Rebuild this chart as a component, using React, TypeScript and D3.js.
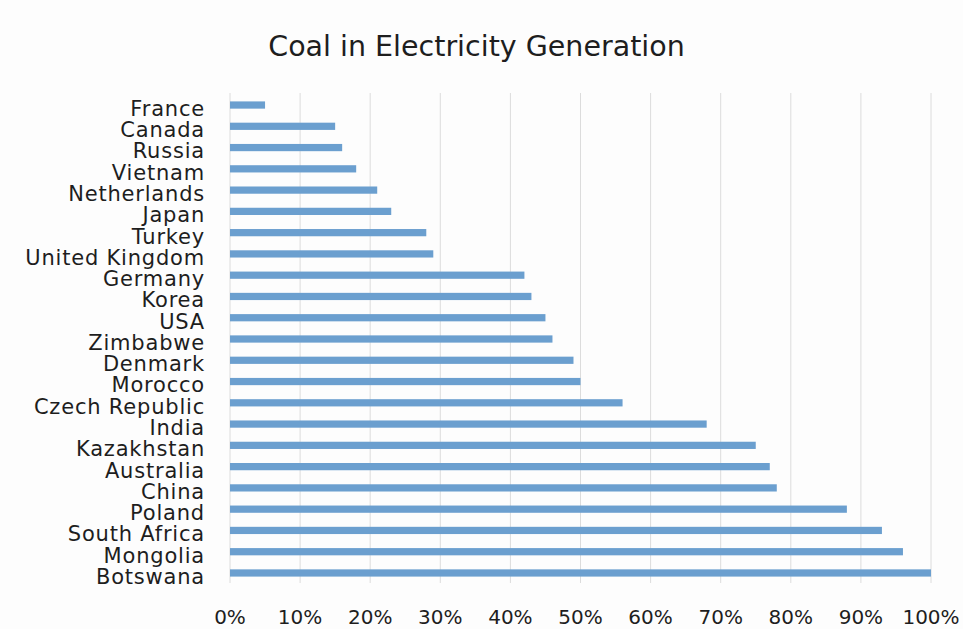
import React, { useEffect, useRef } from "react";
import * as d3 from "d3";

const countries = [
  "France", "Canada", "Russia", "Vietnam", "Netherlands", "Japan", "Turkey",
  "United Kingdom", "Germany", "Korea", "USA", "Zimbabwe", "Denmark", "Morocco",
  "Czech Republic", "India", "Kazakhstan", "Australia", "China", "Poland",
  "South Africa", "Mongolia", "Botswana",
];
const coalShare = [
  5, 15, 16, 18, 21, 23, 28, 29, 42, 43, 45, 46, 49, 50, 56, 68, 75, 77, 78, 88,
  93, 96, 100,
];
const xTicks = [0, 10, 20, 30, 40, 50, 60, 70, 80, 90, 100];
const title = "Coal in Electricity Generation";

const W = 963;
const H = 629;
const FONT = "'DejaVu Sans', sans-serif";

export default function App() {
  const ref = useRef<SVGSVGElement>(null);

  useEffect(() => {
    const svg = d3.select(ref.current);
    svg.selectAll("*").remove();

    const x = d3.scaleLinear().domain([0, 100]).range([230, 931]);
    const y = d3
      .scaleBand<string>()
      .domain(countries)
      .range([92.9, 585.1])
      .paddingInner(0.66)
      .paddingOuter(0.4);

    svg.append("rect").attr("width", W).attr("height", H).attr("fill", "#fdfdfd");

    svg
      .append("text")
      .attr("x", 476.5)
      .attr("y", 56)
      .attr("text-anchor", "middle")
      .attr("font-family", FONT)
      .attr("font-size", 28.5)
      .attr("fill", "#1e1e1e")
      .text(title);

    svg
      .append("g")
      .selectAll("line")
      .data(xTicks)
      .join("line")
      .attr("x1", (d) => x(d))
      .attr("x2", (d) => x(d))
      .attr("y1", 93)
      .attr("y2", 583)
      .attr("stroke", "#dcdcdc")
      .attr("stroke-width", 1);

    svg
      .append("g")
      .selectAll("rect")
      .data(countries)
      .join("rect")
      .attr("x", x(0))
      .attr("y", (d) => y(d)!)
      .attr("width", (d, i) => x(coalShare[i]) - x(0))
      .attr("height", y.bandwidth())
      .attr("fill", "#6b9fcf");

    svg
      .append("g")
      .selectAll("text")
      .data(countries)
      .join("text")
      .attr("x", 205)
      .attr("y", (d) => y(d)! + y.bandwidth() / 2)
      .attr("dy", "0.52em")
      .attr("text-anchor", "end")
      .attr("font-family", FONT)
      .attr("font-size", 21)
      .attr("letter-spacing", 0.8)
      .attr("fill", "#1e1e1e")
      .text((d) => d);

    svg
      .append("g")
      .selectAll("text")
      .data(xTicks)
      .join("text")
      .attr("x", (d) => x(d))
      .attr("y", 624)
      .attr("text-anchor", "middle")
      .attr("font-family", FONT)
      .attr("font-size", 20)
      .attr("fill", "#1e1e1e")
      .text((d) => `${d}%`);
  }, []);

  return (
    <svg
      ref={ref}
      width={W}
      height={H}
      style={{ position: "absolute", left: 0, top: 0 }}
    />
  );
}
